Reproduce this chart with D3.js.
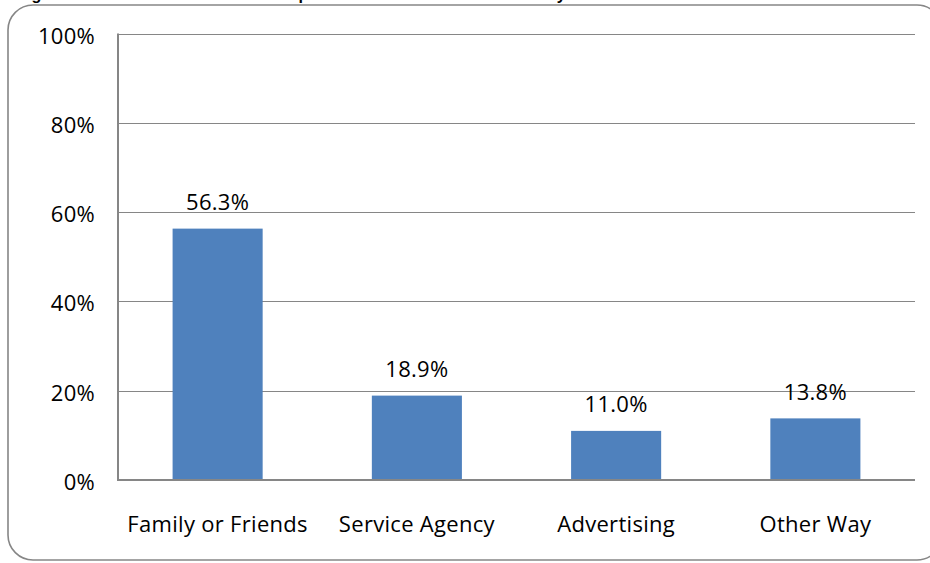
<!DOCTYPE html>
<html>
<head>
<meta charset="utf-8">
<script src="https://cdn.jsdelivr.net/npm/d3@7"></script>
<style>
  html, body { margin: 0; padding: 0; background: #ffffff; }
  svg { display: block; }
</style>
</head>
<body>
<svg id="chart" width="930" height="563"></svg>
<script>
// How respondents learned about the survey
const categories = ["Family or Friends", "Service Agency", "Advertising", "Other Way"];
const shares = [56.3, 18.9, 11.0, 13.8];
const yTicks = [0, 20, 40, 60, 80, 100];
const titleText = "Figure 3: Source from which the Respondent Learned about the Survey";

const W = 930, H = 563;
const plot = { left: 118, right: 915, top: 33.5, bottom: 480 };
const labelFont = "'Open Sans', 'Noto Sans', sans-serif";
const labelSize = 22;
const labelSpacing = "0.3px";

const svg = d3.select("#chart");

// title sits above the frame, only its descenders show
svg.append("text")
  .attr("x", 17)
  .attr("y", -0.5)
  .attr("font-family", "'Liberation Sans', Arial, sans-serif")
  .attr("font-weight", "bold")
  .attr("font-size", 16.2)
  .attr("fill", "#000")
  .text(titleText);

// rounded chart frame
svg.append("rect")
  .attr("x", 8)
  .attr("y", 5)
  .attr("width", 934)
  .attr("height", 555)
  .attr("rx", 25)
  .attr("ry", 25)
  .attr("fill", "none")
  .attr("stroke", "#868686")
  .attr("stroke-width", 1.6);

const x = d3.scaleBand()
  .domain(categories)
  .range([plot.left, plot.right])
  .paddingInner(0.548)
  .paddingOuter(0.274);

const y = d3.scaleLinear()
  .domain([0, 100])
  .range([plot.bottom, plot.top]);

// horizontal gridlines
svg.append("g")
  .selectAll("line")
  .data(yTicks.filter(d => d > 0))
  .join("line")
  .attr("x1", plot.left)
  .attr("x2", plot.right)
  .attr("y1", d => Math.round(y(d)) + 0.5)
  .attr("y2", d => Math.round(y(d)) + 0.5)
  .attr("stroke", "#868686")
  .attr("stroke-width", 1.2);

// y axis labels
const yAxis = d3.axisLeft(y)
  .tickValues(yTicks)
  .tickFormat(d => d + "%")
  .tickSize(0)
  .tickPadding(23);

const gy = svg.append("g")
  .attr("transform", `translate(${plot.left},0)`)
  .call(yAxis);
gy.select(".domain").remove();
gy.selectAll("text")
  .attr("font-family", labelFont)
  .attr("font-size", labelSize)
  .attr("letter-spacing", labelSpacing)
  .attr("fill", "#000")
  .attr("dy", "0.32em")
  .attr("transform", "translate(0,2.5)");

// bars
svg.append("g")
  .selectAll("rect")
  .data(categories)
  .join("rect")
  .attr("x", d => x(d))
  .attr("width", x.bandwidth())
  .attr("y", (d, i) => y(shares[i]))
  .attr("height", (d, i) => y(0) - y(shares[i]))
  .attr("fill", "#4f81bd");

// value labels
svg.append("g")
  .selectAll("text")
  .data(categories)
  .join("text")
  .attr("x", d => x(d) + x.bandwidth() / 2)
  .attr("y", (d, i) => y(shares[i]) - 18.5)
  .attr("text-anchor", "middle")
  .attr("font-family", labelFont)
  .attr("font-size", labelSize)
  .attr("letter-spacing", labelSpacing)
  .attr("fill", "#000")
  .text((d, i) => shares[i].toFixed(1) + "%");

// axis lines
svg.append("line")
  .attr("x1", plot.left).attr("x2", plot.left)
  .attr("y1", plot.top).attr("y2", plot.bottom)
  .attr("stroke", "#868686").attr("stroke-width", 2);

svg.append("line")
  .attr("x1", plot.left - 1).attr("x2", plot.right)
  .attr("y1", plot.bottom).attr("y2", plot.bottom)
  .attr("stroke", "#868686").attr("stroke-width", 2);

// category labels
const xAxis = d3.axisBottom(x).tickSize(0).tickPadding(0);
const gx = svg.append("g")
  .attr("transform", `translate(0,${plot.bottom})`)
  .call(xAxis);
gx.select(".domain").remove();
gx.selectAll("text")
  .attr("font-family", labelFont)
  .attr("font-size", labelSize)
  .attr("letter-spacing", labelSpacing)
  .attr("fill", "#000")
  .attr("dy", null)
  .attr("y", 52);
</script>
</body>
</html>
